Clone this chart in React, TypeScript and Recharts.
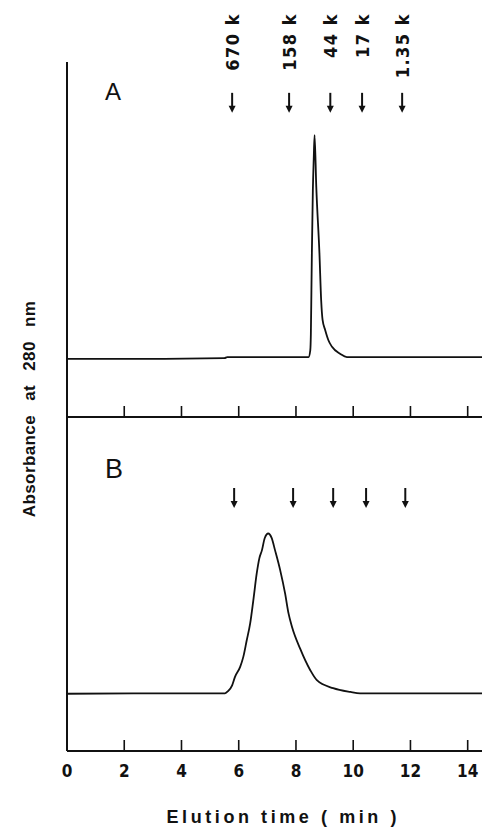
import { LineChart, Line, XAxis, YAxis, ReferenceDot } from "recharts";

// Panel A: elution trace (time in min, absorbance relative to baseline)
const timeA = [
  0, 3.0, 5.5, 5.6, 8.44, 8.5, 8.52, 8.54, 8.556, 8.59, 8.62, 8.65, 8.71,
  8.82, 8.88, 8.93, 9.02, 9.13, 9.26, 9.55, 9.78, 12.0, 14.5,
];
const absA = [
  -0.008, -0.008, -0.005, 0, 0, 0.03, 0.1, 0.3, 0.47, 0.75, 0.89, 1.0, 0.766,
  0.468, 0.257, 0.167, 0.122, 0.077, 0.046, 0.014, 0, 0, 0,
];

// Panel B: elution trace
const timeB = [
  0, 3.0, 5.52, 5.63, 5.77, 5.87, 6.05, 6.16, 6.28, 6.4, 6.51, 6.63, 6.72,
  6.81, 6.91, 7.03, 7.15, 7.27, 7.45, 7.62, 7.74, 7.86, 8.15, 8.5, 8.73, 9.3,
  9.9, 10.24, 12.0, 14.5,
];
const absB = [
  -0.002, 0, 0, 0.01, 0.036, 0.074, 0.119, 0.164, 0.239, 0.315, 0.419, 0.541,
  0.608, 0.644, 0.7, 0.72, 0.7, 0.644, 0.554, 0.45, 0.36, 0.3, 0.2, 0.104,
  0.059, 0.023, 0.006, 0, 0, 0,
];

// molecular weight standards
const standardLabels = ["670 k", "158 k", "44 k", "17 k", "1.35 k"];
const standardTimesA = [5.77, 7.76, 9.2, 10.31, 11.71];
const standardTimesB = [5.84, 7.9, 9.3, 10.45, 11.82];

const xTicks = [0, 2, 4, 6, 8, 10, 12, 14];
const innerTicks = [2, 4, 6, 8, 10, 12, 14];

const INK = "#111";
const CONDENSED =
  "'Liberation Sans Narrow', 'DejaVu Sans Condensed', 'Arial Narrow', sans-serif";
const SANS = "'Liberation Sans', Arial, sans-serif";

const seriesA = timeA.map((t, i) => ({ t, a: absA[i] }));
const seriesB = timeB.map((t, i) => ({ t, b: absB[i] }));

// arrow tips sit at these heights (in absorbance units of each panel)
const ARROW_TIP_A = 1.1;
const ARROW_TIP_B = 0.835;

function Arrow(props: any) {
  const { cx, cy } = props;
  if (cx == null || cy == null) return null;
  return (
    <g>
      <line x1={cx} x2={cx} y1={cy - 20} y2={cy - 5} stroke={INK} strokeWidth={2} />
      <path
        d={`M${cx - 3.5},${cy - 7} L${cx + 3.5},${cy - 7} L${cx},${cy} Z`}
        fill={INK}
      />
    </g>
  );
}

// middle axis keeps its tick marks but has no labels
function EmptyTick() {
  return <g />;
}

function StandardTick(props: any) {
  const { x, payload } = props;
  const i = standardTimesA.indexOf(payload.value);
  const top = 13;
  return (
    <text
      x={x}
      y={top}
      transform={`rotate(-90 ${x} ${top})`}
      textAnchor="end"
      dominantBaseline="central"
      fill={INK}
      fontFamily={CONDENSED}
      fontWeight="bold"
      fontSize={18}
      letterSpacing={1.5}
    >
      {standardLabels[i]}
    </text>
  );
}

function XTitle(props: any) {
  const { viewBox } = props;
  const cx = viewBox.x + viewBox.width / 2 + 7;
  return (
    <text
      x={cx}
      y={viewBox.y + viewBox.height - 7}
      textAnchor="middle"
      fill={INK}
      fontFamily={SANS}
      fontWeight="bold"
      fontSize={18}
      textLength={230}
      lengthAdjust="spacing"
    >
      Elution time ( min )
    </text>
  );
}

const axisLine = { stroke: INK, strokeWidth: 2 };
const tickLine = { stroke: INK, strokeWidth: 1.6 };

export default function App() {
  return (
    <div
      style={{
        position: "absolute",
        left: 0,
        top: 0,
        width: 482,
        height: 830,
        background: "#fff",
      }}
    >
      <div style={{ position: "absolute", left: 0, top: 0 }}>
        <LineChart
          width={482}
          height={430}
          data={seriesA}
          margin={{ top: 0, right: 0, bottom: 0, left: 0 }}
        >
          <XAxis
            xAxisId="mw"
            orientation="top"
            dataKey="t"
            type="number"
            domain={[0, 14.5]}
            ticks={standardTimesA}
            interval={0}
            height={62}
            axisLine={false}
            tickLine={false}
            tick={<StandardTick />}
            allowDataOverflow
          />
          <XAxis
            dataKey="t"
            type="number"
            domain={[0, 14.5]}
            ticks={innerTicks}
            interval={0}
            height={13}
            axisLine={axisLine}
            tickLine={tickLine}
            tickSize={-11}
            tick={<EmptyTick />}
            allowDataOverflow
          />
          <YAxis
            type="number"
            domain={[-0.27, 1.329]}
            width={67}
            axisLine={axisLine}
            tick={false}
            tickLine={false}
            allowDataOverflow
          />
          {standardTimesA.map((t) => (
            <ReferenceDot key={t} x={t} y={ARROW_TIP_A} r={0} shape={<Arrow />} />
          ))}
          <Line
            type="monotone"
            dataKey="a"
            stroke={INK}
            strokeWidth={1.8}
            dot={false}
            isAnimationActive={false}
          />
        </LineChart>
      </div>

      <div style={{ position: "absolute", left: 0, top: 417 }}>
        <LineChart
          width={482}
          height={413}
          data={seriesB}
          margin={{ top: 0, right: 0, bottom: 0, left: 0 }}
        >
          <XAxis
            dataKey="t"
            type="number"
            domain={[0, 14.5]}
            ticks={xTicks}
            interval={0}
            height={79}
            axisLine={axisLine}
            tickLine={tickLine}
            tickSize={-11}
            tickMargin={25}
            tick={{
              fill: INK,
              fontSize: 17,
              fontFamily: CONDENSED,
              fontWeight: "bold",
            }}
            label={{ content: <XTitle /> }}
            allowDataOverflow
          />
          <YAxis
            type="number"
            domain={[-0.26, 1.245]}
            width={67}
            axisLine={axisLine}
            tick={false}
            tickLine={false}
            allowDataOverflow
          />
          {standardTimesB.map((t) => (
            <ReferenceDot key={t} x={t} y={ARROW_TIP_B} r={0} shape={<Arrow />} />
          ))}
          <Line
            type="monotone"
            dataKey="b"
            stroke={INK}
            strokeWidth={1.8}
            dot={false}
            isAnimationActive={false}
          />
        </LineChart>
      </div>

      <svg
        width={482}
        height={830}
        style={{ position: "absolute", left: 0, top: 0, pointerEvents: "none" }}
      >
        <text
          x={29}
          y={409}
          transform="rotate(-90 29 409)"
          textAnchor="middle"
          dominantBaseline="central"
          fill={INK}
          fontFamily={SANS}
          fontWeight="bold"
          fontSize={17}
          letterSpacing={0.4}
          wordSpacing={9}
        >
          Absorbance at 280 nm
        </text>
        <text x={113} y={100} textAnchor="middle" fill={INK} fontFamily={SANS} fontSize={24}>
          A
        </text>
        <text x={114} y={478} textAnchor="middle" fill={INK} fontFamily={SANS} fontSize={27}>
          B
        </text>
      </svg>
    </div>
  );
}
